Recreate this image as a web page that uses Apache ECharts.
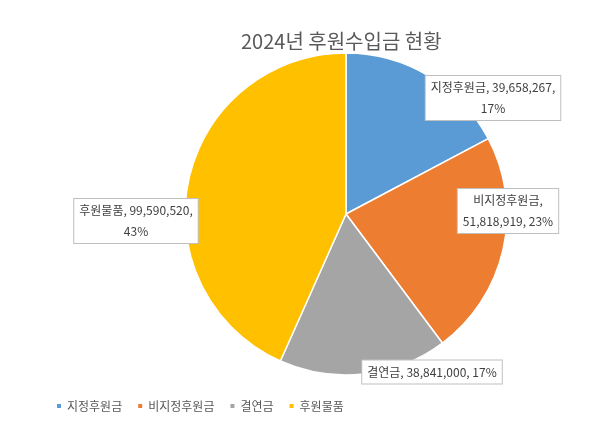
<!DOCTYPE html>
<html>
<head>
<meta charset="utf-8">
<script src="https://cdn.jsdelivr.net/npm/echarts@6/dist/echarts.min.js"></script>
<style>
  html, body { margin: 0; padding: 0; background: #fff; }
  #chart { width: 600px; height: 425px; }
</style>
</head>
<body>
<div id="chart"></div>
<script>
// 2024년 후원수입금 현황
var categories = ['지정후원금', '비지정후원금', '결연금', '후원물품']
var amounts = [39658267, 51818919, 38841000, 99590520]
var colors = ['#5B9BD5', '#ED7D31', '#A5A5A5', '#FFC000']

// 라벨 위치 (엑셀 원본과 비슷하게)
var labelPos = [[493, 98], [508, 211], [432, 372], [136, 221]]
var labelBreak = [2, 1, 0, 2] // 줄바꿈 위치 (0 = 한 줄)

var fmt = function (n) { return n.toLocaleString('en-US') }

var myChart = echarts.init(document.getElementById('chart'))
var option = {
  title: {
    text: '2024년 후원수입금 현황',
    left: 236,
    top: 26,
    textStyle: { fontFamily: 'Noto Sans CJK KR', fontSize: 20, fontWeight: 'normal', color: '#595959' }
  },
  legend: {
    bottom: 8,
    left: 50,
    icon: 'rect',
    itemWidth: 6,
    itemHeight: 6,
    itemGap: 14,
    textStyle: { fontFamily: 'Noto Sans CJK KR', fontSize: 12, color: '#595959' },
    data: categories
  },
  color: colors,
  series: [
    {
      type: 'pie',
      center: [346, 214],
      radius: 161,
      startAngle: 90,
      clockwise: true,
      itemStyle: { borderColor: '#fff', borderWidth: 1.5 },
      label: {
        show: true,
        position: 'inside',
        overflow: 'none',
        formatter: function (p) {
          var parts = [p.name, fmt(p.value), Math.round(p.percent) + '%']
          var b = labelBreak[p.dataIndex]
          if (b === 0) return parts.join(', ')
          return parts.slice(0, b).join(', ') + ',\n' + parts.slice(b).join(', ')
        },
        fontFamily: 'Noto Sans CJK KR',
        fontSize: 12,
        color: '#404040',
        lineHeight: 21,
        align: 'center',
        backgroundColor: '#fff',
        borderColor: '#BFBFBF',
        borderWidth: 1,
        padding: [1, 5]
      },
      labelLine: { show: false },
      labelLayout: function (params) {
        var pos = labelPos[params.dataIndex]
        return { x: pos[0], y: pos[1], align: 'center', verticalAlign: 'middle' }
      },
      emphasis: { disabled: true },
      data: categories.map(function (c, i) { return { name: c, value: amounts[i] } })
    }
  ]
}
myChart.setOption(option)
</script>
</body>
</html>
